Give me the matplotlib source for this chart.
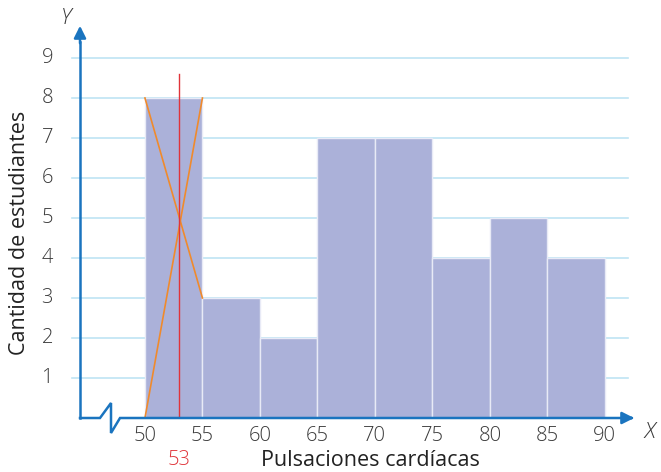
import matplotlib.pyplot as plt
import numpy as np

# histograma de pulsaciones
bordes = [50, 55, 60, 65, 70, 75, 80, 85, 90]
frecuencias = [8, 3, 2, 7, 7, 4, 5, 4]
y_ticks = [1, 2, 3, 4, 5, 6, 7, 8, 9]
moda = 53

azul = '#1a74bf'
barra = '#abb1d9'
rejilla = '#bfe4f3'
naranja = '#f08a2c'
rojo = '#e0343a'
gris = '#3a3a3a'

plt.rcParams['font.family'] = ['Open Sans', 'DejaVu Sans']

fig = plt.figure(figsize=(6.61, 4.72), dpi=100)
ax = fig.add_axes([80 / 661, 54 / 472, 557 / 661, 395 / 472])
x0, x1 = 44.35, 92.8
ax.set_xlim(x0, x1)
ax.set_ylim(0, 9.875)
ax.axis('off')

# rejilla horizontal
for v in y_ticks:
    ax.plot([43.65, 92.0], [v, v], color=rejilla, lw=1.2, clip_on=False, zorder=1)
    ax.text(42.0, v, str(v), ha='right', va='center', fontsize=14.5, color=gris,
            fontweight='light')

# barras
ancho = np.diff(bordes)
ax.bar(bordes[:-1], frecuencias, width=ancho, align='edge', color=barra,
       edgecolor='#e8eaf6', linewidth=1.0, zorder=2)

# lineas para la moda
ax.plot([bordes[0], bordes[1]], [frecuencias[0], frecuencias[1]], color=naranja, lw=1.2, zorder=3)
ax.plot([bordes[0], bordes[1]], [0, frecuencias[0]], color=naranja, lw=1.2, zorder=3)
ax.plot([moda, moda], [0, 8.6], color=rojo, lw=1.0, zorder=4)

# ejes con corte
px = (x1 - x0) / 557
py = 9.875 / 395
ax.plot([x0, x0], [0, 9.4], color=azul, lw=1.8, clip_on=False, zorder=5)
ax.annotate('', xy=(x0, 9.875), xytext=(x0, 9.3),
            arrowprops=dict(arrowstyle='-|>', color=azul, lw=1.8, mutation_scale=18),
            annotation_clip=False, zorder=5)
zx = [x0, x0 + 20 * px, x0 + 31 * px, x0 + 31 * px, x0 + 40 * px, 92.2]
zy = [0, 0, 15 * py, -15 * py, 0, 0]
ax.plot(zx, zy, color=azul, lw=1.8, clip_on=False, zorder=5, solid_joinstyle='miter')
ax.annotate('', xy=(x1, 0), xytext=(92.0, 0),
            arrowprops=dict(arrowstyle='-|>', color=azul, lw=1.8, mutation_scale=18),
            annotation_clip=False, zorder=5)

for b in bordes:
    ax.text(b, -0.2, str(b), ha='center', va='top', fontsize=14.5, color=gris,
            fontweight='light')
ax.text(moda, -0.8, str(moda), ha='center', va='top', fontsize=14.5, color=rojo,
        fontweight='light')

ax.text(x0 - 14 * px, 10.0, 'Y', ha='center', va='center', fontsize=16, color=gris,
        style='italic', fontweight='light')
ax.text(x1 + 13 * px, -0.35, 'X', ha='center', va='center', fontsize=16, color=gris,
        style='italic', fontweight='light')

fig.text(370 / 661, 1 - 461 / 472, 'Pulsaciones cardíacas', ha='center', va='center',
         fontsize=15.5, color='#222222')
fig.text(20 / 661, 1 - 233 / 472, 'Cantidad de estudiantes', ha='center', va='center',
         fontsize=15.5, color='#222222', rotation=90)

fig.savefig('out.png', dpi=100)
